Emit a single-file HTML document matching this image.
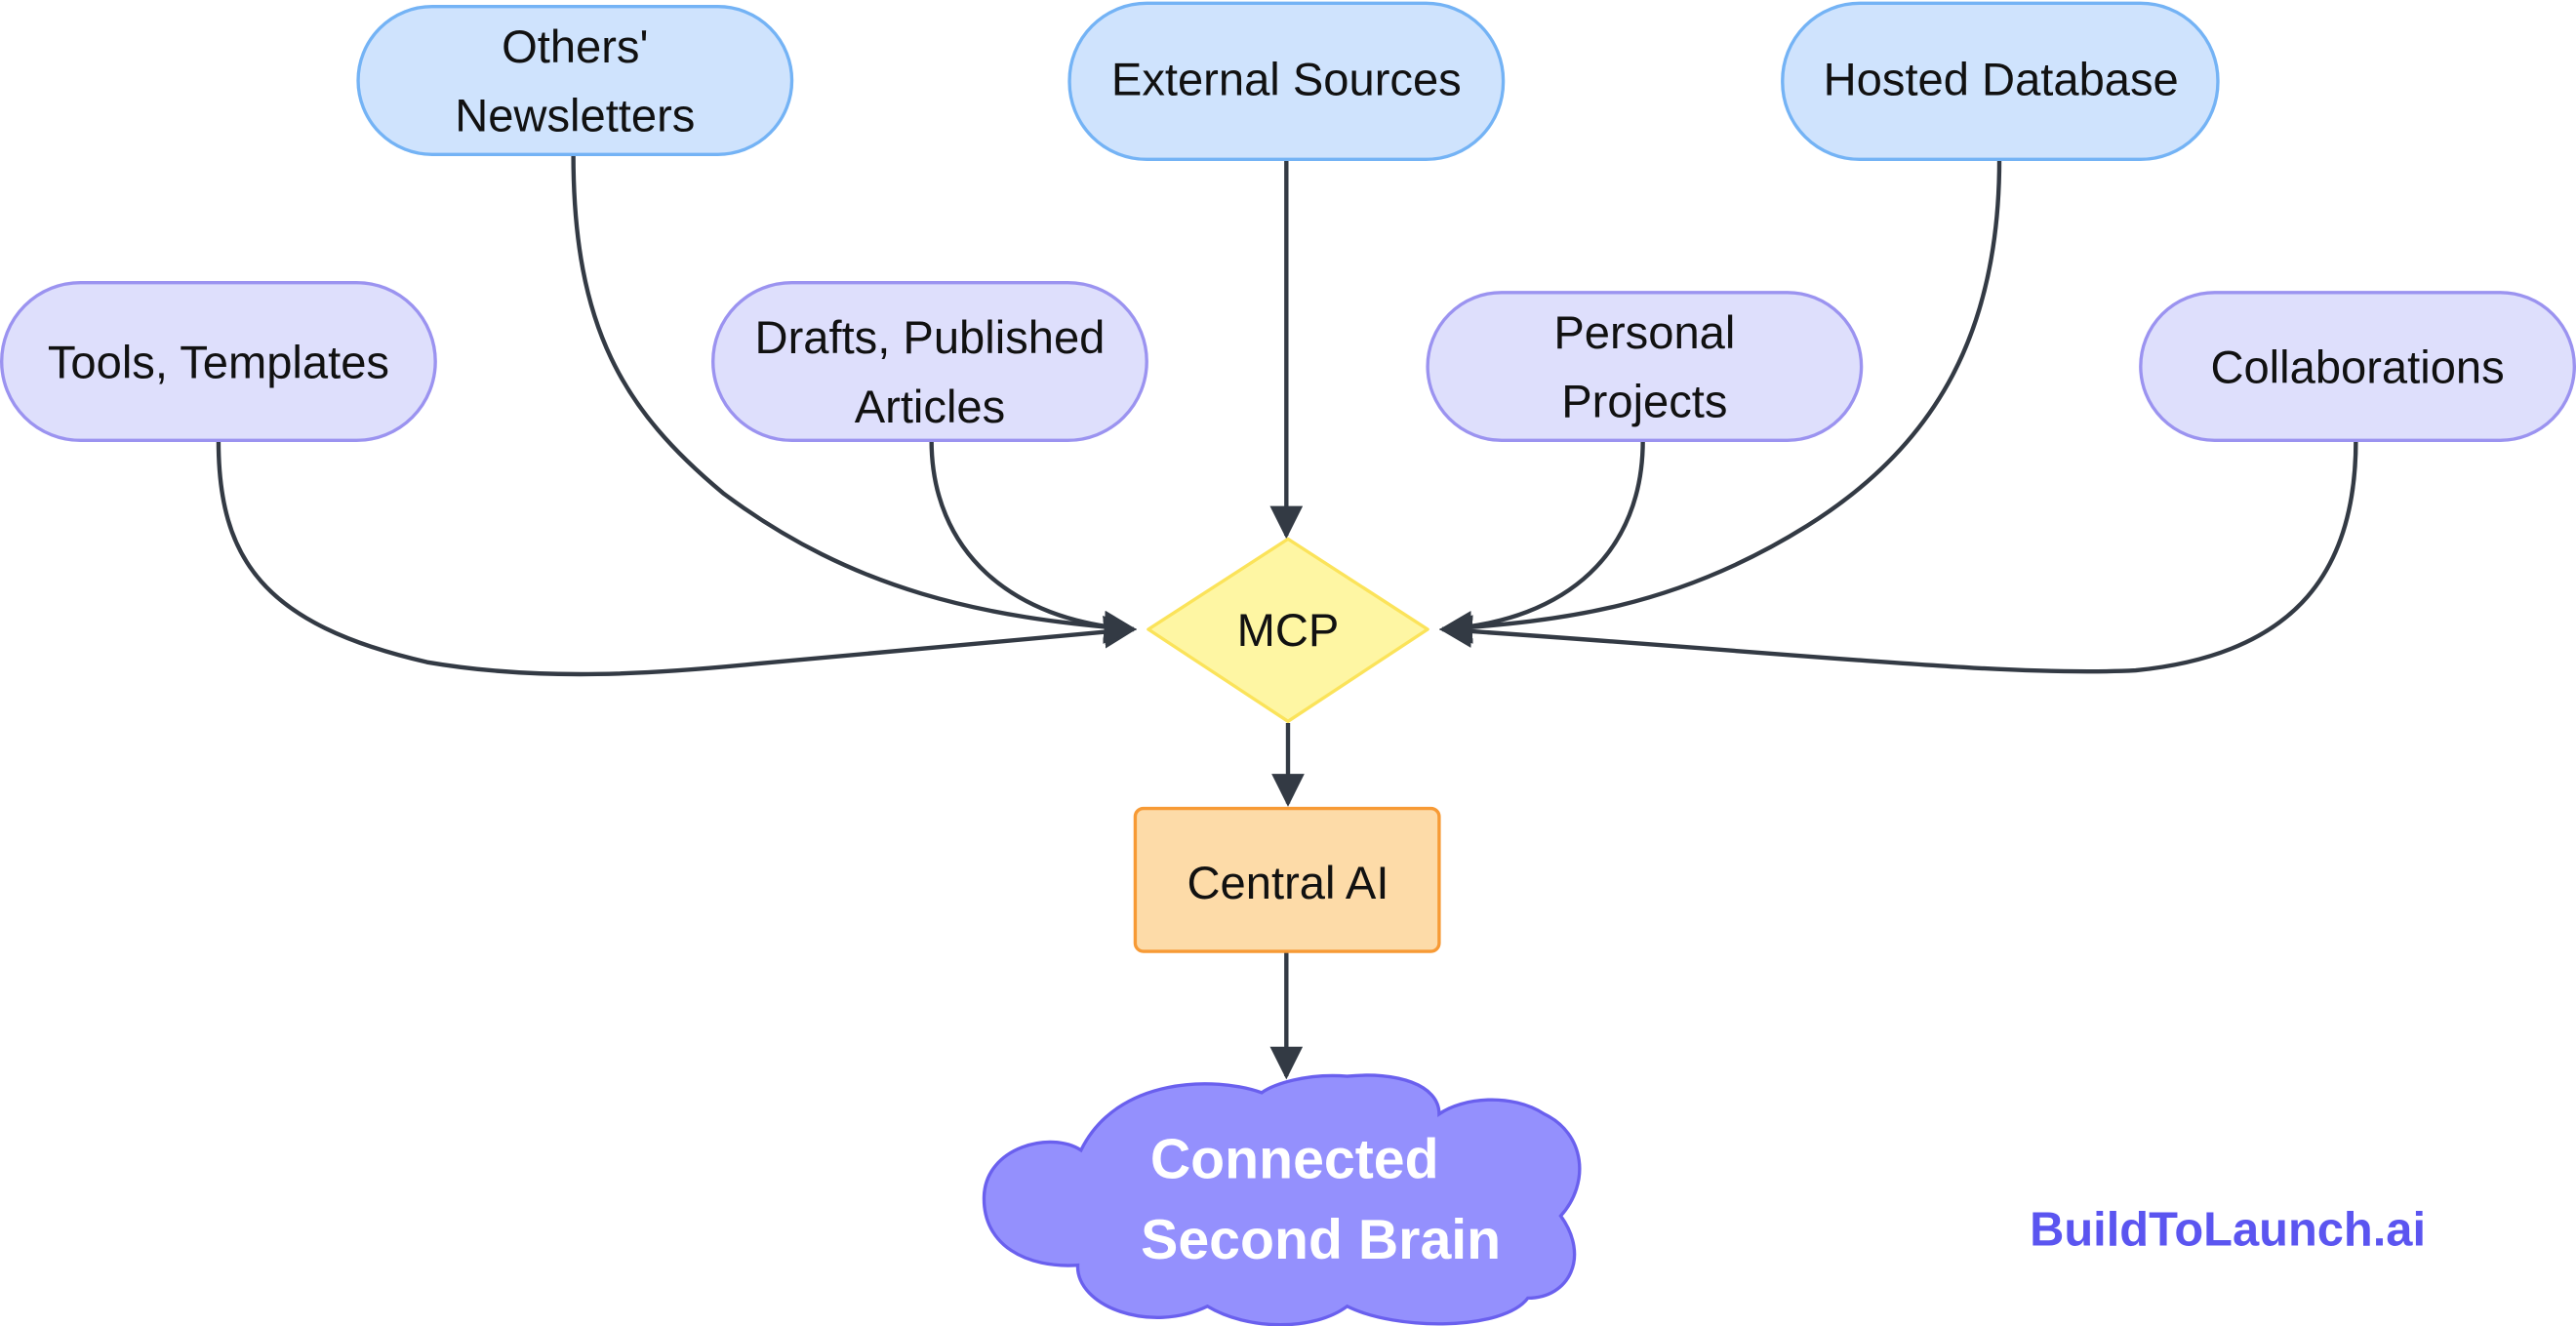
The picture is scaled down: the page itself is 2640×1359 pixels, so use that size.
<!DOCTYPE html>
<html><head><meta charset="utf-8"><style>html,body{margin:0;padding:0;background:#fff}svg{display:block}</style></head>
<body>
<svg width="2640" height="1359" viewBox="0 0 1568 807" preserveAspectRatio="none" xmlns="http://www.w3.org/2000/svg" font-family="Liberation Sans, sans-serif">
<defs>
<marker id="b" viewBox="0 0 10 10" refX="9" refY="5" markerWidth="20" markerHeight="20" markerUnits="userSpaceOnUse" orient="auto">
<path d="M0,0 L10,5 L0,10 z" fill="#333a44"/></marker>
</defs>
<g fill="none" stroke="#333a44" stroke-width="2.6">
<path d="M133,268 C133,340 160,380 260,403 C330,415 400,410 460,404 L690,383" marker-end="url(#b)"/>
<path d="M349,94 C349,200 380,250 440,300 C520,360 600,376 690,383" marker-end="url(#b)"/>
<path d="M567,268 C567,335 615,378 690,383" marker-end="url(#b)"/>
<path d="M783,97 L783,326" marker-end="url(#b)"/>
<path d="M1000,268 C1000,335 955,378 878,383" marker-end="url(#b)"/>
<path d="M1217,97 C1217,200 1180,270 1100,320 C1020,370 950,378 878,383" marker-end="url(#b)"/>
<path d="M1434,268 C1434,345 1400,398 1300,408 C1220,412 1100,398 878,383" marker-end="url(#b)"/>
<path d="M784,440 L784,489" marker-end="url(#b)"/>
<path d="M783,579 L783,655" marker-end="url(#b)"/>
</g>
<g stroke-width="2">
<rect x="218" y="4" width="264" height="90" rx="45" fill="#cfe3fd" stroke="#74b3f5"/>
<rect x="651" y="2" width="264" height="95" rx="47" fill="#cfe3fd" stroke="#74b3f5"/>
<rect x="1085" y="2" width="265" height="95" rx="47" fill="#cfe3fd" stroke="#74b3f5"/>
<rect x="1" y="172" width="264" height="96" rx="48" fill="#dedffc" stroke="#9b93f0"/>
<rect x="434" y="172" width="264" height="96" rx="48" fill="#dedffc" stroke="#9b93f0"/>
<rect x="869" y="178" width="264" height="90" rx="45" fill="#dedffc" stroke="#9b93f0"/>
<rect x="1303" y="178" width="264" height="90" rx="45" fill="#dedffc" stroke="#9b93f0"/>
<path d="M784,328 L869,383 L784,439 L699,383 Z" fill="#fef6a3" stroke="#fbe35a" stroke-linejoin="round"/>
<rect x="691" y="492" width="185" height="87" rx="5" fill="#fddba8" stroke="#f79a35"/>
<path d="M658,700 C640,688 600,698 599,728 C598,758 625,772 656,770 C655,795 700,812 735,795 C760,810 800,810 820,795 C850,810 915,810 930,790 C955,790 968,765 950,740 C968,720 965,690 940,678 C920,665 890,668 876,678 C876,660 850,652 820,655 C795,653 775,660 768,665 C740,655 680,655 658,700 Z" fill="#9490fd" stroke="#6a60ee"/>
</g>
<g font-size="28" fill="#111" text-anchor="middle">
<text x="350" y="38">Others'</text>
<text x="350" y="80">Newsletters</text>
<text x="783" y="58">External Sources</text>
<text x="1218" y="58">Hosted Database</text>
<text x="133" y="230">Tools, Templates</text>
<text x="566" y="215">Drafts, Published</text>
<text x="566" y="257">Articles</text>
<text x="1001" y="212">Personal</text>
<text x="1001" y="254">Projects</text>
<text x="1435" y="233">Collaborations</text>
<text x="784" y="393">MCP</text>
<text x="784" y="547">Central AI</text>
</g>
<g font-size="34" font-weight="bold" fill="#fff" text-anchor="middle">
<text x="788" y="717">Connected</text>
<text x="804" y="766">Second Brain</text>
</g>
<text x="1356" y="758" font-size="29" font-weight="bold" fill="#5b55f0" text-anchor="middle">BuildToLaunch.ai</text>
</svg>
</body></html>
